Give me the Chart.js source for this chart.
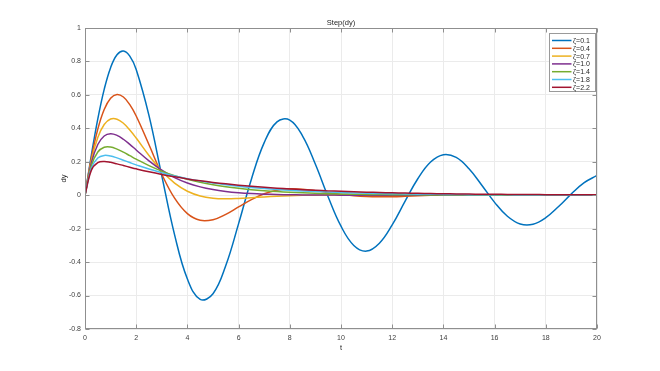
<!DOCTYPE html>
<html lang="en">
<head>
<meta charset="UTF-8">
<title>Step(dy)</title>
<script src="https://cdn.jsdelivr.net/npm/chart.js"></script>
<style>
  html, body { margin: 0; padding: 0; background: #fff; }
</style>
</head>
<body>
<canvas id="stepChart" width="660" height="371"></canvas>
<script>
// time samples (denser near the start where the curves rise fast)
const t = [0, 0.25, 0.5, 0.75, 1, 1.25, 1.5, 1.75, 2, 2.5, 3, 3.5, 4, 4.5, 5, 5.5, 6, 6.5, 7, 7.5,
           8, 8.5, 9, 9.5, 10, 10.5, 11, 11.5, 12, 12.5, 13, 13.5, 14, 14.5, 15, 15.5, 16, 16.5, 17, 17.5,
           18, 18.5, 19, 19.5, 20];

// dy values, one array per damping ratio
const z01 = [0, 0.2413, 0.4563, 0.6330, 0.7629, 0.8396, 0.8624, 0.8315, 0.7516, 0.4760, 0.1159, -0.2368, -0.5011, -0.6233, -0.5888,
             -0.4203, -0.1700, 0.0961, 0.3145, 0.4388, 0.4491, 0.3538, 0.1850, -0.0107, -0.1853, -0.3002, -0.3341, -0.2870, -0.1775, -0.0371,
             0.0987, 0.1985, 0.2425, 0.2259, 0.1580, 0.0601, -0.0427, -0.1257, -0.1716, -0.1731, -0.1341, -0.0676, 0.0083, 0.0751, 0.1180];
const z04 = [0, 0.2242, 0.3952, 0.5129, 0.5805, 0.6029, 0.5873, 0.5415, 0.4736, 0.3016, 0.1254, -0.0178, -0.1103, -0.1501, -0.1464,
             -0.1144, -0.0698, -0.0259, 0.0088, 0.0303, 0.0385, 0.0363, 0.0275, 0.0161, 0.0051, -0.0032, -0.0082, -0.0098, -0.0090, -0.0066,
             -0.0036, -0.0009, 0.0011, 0.0022, 0.0025, 0.0022, 0.0016, 0.0008, 0.0002, -0.0003, -0.0006, -0.0006, -0.0005, -0.0004, -0.0002];
const z07 = [0, 0.2088, 0.3449, 0.4229, 0.4555, 0.4547, 0.4301, 0.3903, 0.3418, 0.2377, 0.1442, 0.0723, 0.0239, -0.0043, -0.0176,
             -0.0211, -0.0191, -0.0148, -0.0100, -0.0059, -0.0028, -0.0008, 0.0004, 0.0009, 0.0010, 0.0008, 0.0006, 0.0004, 0.0002, 0.0001,
             0, 0, 0, 0, 0, 0, 0, 0, 0, 0, 0, 0, 0, 0, 0];
const z10 = [0, 0.1947, 0.3033, 0.3543, 0.3679, 0.3581, 0.3347, 0.3041, 0.2707, 0.2052, 0.1494, 0.1057, 0.0733, 0.0500, 0.0337,
             0.0225, 0.0149, 0.0098, 0.0064, 0.0041, 0.0027, 0.0017, 0.0011, 0.0007, 0.0005, 0.0003, 0.0002, 0.0001, 0.0001, 0,
             0, 0, 0, 0, 0, 0, 0, 0, 0, 0, 0, 0, 0, 0, 0];
const z14 = [0, 0.1779, 0.2583, 0.2867, 0.2880, 0.2757, 0.2573, 0.2367, 0.2158, 0.1772, 0.1443, 0.1171, 0.0950, 0.0770, 0.0624,
             0.0506, 0.0410, 0.0332, 0.0269, 0.0218, 0.0177, 0.0143, 0.0116, 0.0094, 0.0076, 0.0062, 0.0050, 0.0041, 0.0033, 0.0027,
             0.0022, 0.0018, 0.0014, 0.0012, 0.0009, 0.0008, 0.0006, 0.0005, 0.0004, 0.0003, 0.0003, 0.0002, 0.0002, 0.0001, 0.0001];
const z18 = [0, 0.1632, 0.2228, 0.2379, 0.2343, 0.2232, 0.2096, 0.1954, 0.1817, 0.1564, 0.1345, 0.1155, 0.0993, 0.0853, 0.0733,
             0.0630, 0.0541, 0.0465, 0.0400, 0.0343, 0.0295, 0.0254, 0.0218, 0.0187, 0.0161, 0.0138, 0.0119, 0.0102, 0.0088, 0.0075,
             0.0065, 0.0056, 0.0048, 0.0041, 0.0035, 0.0030, 0.0026, 0.0022, 0.0019, 0.0017, 0.0014, 0.0012, 0.0010, 0.0009, 0.0008];
const z22 = [0, 0.1501, 0.1944, 0.2018, 0.1966, 0.1875, 0.1774, 0.1674, 0.1577, 0.1399, 0.1240, 0.1100, 0.0975, 0.0865, 0.0767,
             0.0680, 0.0603, 0.0535, 0.0474, 0.0420, 0.0373, 0.0331, 0.0293, 0.0260, 0.0231, 0.0204, 0.0181, 0.0161, 0.0143, 0.0126,
             0.0112, 0.0099, 0.0088, 0.0078, 0.0069, 0.0061, 0.0054, 0.0048, 0.0043, 0.0038, 0.0034, 0.0030, 0.0026, 0.0023, 0.0021];

const zetaLabels = ["ζ=0.1", "ζ=0.4", "ζ=0.7", "ζ=1.0", "ζ=1.4", "ζ=1.8", "ζ=2.2"];
const lineColors = ["#0072BD", "#D95319", "#EDB120", "#7E2F8E", "#77AC30", "#4DBEEE", "#A2142F"];
const xTicks = [0, 2, 4, 6, 8, 10, 12, 14, 16, 18, 20];
const yTicks = [-0.8, -0.6, -0.4, -0.2, 0, 0.2, 0.4, 0.6, 0.8, 1];

const FONT = '"Liberation Sans", Arial, Helvetica, sans-serif';
Chart.defaults.font.family = FONT;

const series = [z01, z04, z07, z10, z14, z18, z22];
const datasets = series.map((s, i) => ({
    label: zetaLabels[i],
    data: s.map((v, k) => ({ x: t[k], y: v })),
    borderColor: lineColors[i],
    borderWidth: 1.5,
    pointRadius: 0,
    tension: 0.4,
    fill: false,
    order: series.length - i   // last one on top, like matlab
}));

// box, inward ticks, title, axis labels and the legend
const matlabFrame = {
    id: 'matlabFrame',
    afterDraw(chart) {
        const { ctx, chartArea: a, scales: { x, y } } = chart;
        const l = Math.floor(a.left) + 0.5, r = Math.floor(a.right) - 0.5;
        const tp = Math.floor(a.top) + 0.5, b = Math.floor(a.bottom) - 0.5;
        ctx.save();
        ctx.strokeStyle = '#8f8f8f';
        ctx.lineWidth = 1;
        ctx.strokeRect(l, tp, r - l, b - tp);

        ctx.beginPath();
        xTicks.forEach(v => {
            const px = Math.round(x.getPixelForValue(v)) + 0.5;
            ctx.moveTo(px, b); ctx.lineTo(px, b - 4);
            ctx.moveTo(px, tp); ctx.lineTo(px, tp + 4);
        });
        yTicks.forEach(v => {
            const py = Math.round(y.getPixelForValue(v)) + 0.5;
            ctx.moveTo(l, py); ctx.lineTo(l + 4, py);
            ctx.moveTo(r, py); ctx.lineTo(r - 4, py);
        });
        ctx.stroke();

        ctx.fillStyle = '#262626';
        ctx.textAlign = 'center';
        ctx.textBaseline = 'middle';
        ctx.font = '7.5px ' + FONT;
        const cx = (a.left + a.right) / 2, cy = (a.top + a.bottom) / 2;
        ctx.fillText('Step(dy)', cx, 22.5);
        ctx.fillText('t', cx, 348);
        ctx.save();
        ctx.translate(64, cy);
        ctx.rotate(-Math.PI / 2);
        ctx.fillText('dy', 0, 0);
        ctx.restore();

        // legend box
        const lx = 549.5, ly = 33.5, lw = 46, lh = 58;
        ctx.fillStyle = '#fff';
        ctx.fillRect(lx, ly, lw, lh);
        ctx.strokeStyle = '#9a9a9a';
        ctx.strokeRect(lx, ly, lw, lh);
        ctx.font = '7px ' + FONT;
        ctx.textAlign = 'left';
        zetaLabels.forEach((lab, i) => {
            const ry = 40.5 + i * 7.8;
            ctx.strokeStyle = lineColors[i];
            ctx.lineWidth = 1.5;
            ctx.beginPath();
            ctx.moveTo(552, ry); ctx.lineTo(571.5, ry);
            ctx.stroke();
            ctx.fillStyle = '#262626';
            ctx.fillText(lab, 573, ry + 0.5);
        });
        ctx.restore();
    }
};

new Chart(document.getElementById('stepChart').getContext('2d'), {
    type: 'line',
    data: { datasets: datasets },
    options: {
        responsive: false,
        animation: false,
        devicePixelRatio: 1,
        layout: { padding: { left: 0, right: 63, top: 28, bottom: 0 } },
        plugins: {
            legend: { display: false },
            title: { display: false },
            tooltip: { enabled: false }
        },
        scales: {
            x: {
                type: 'linear',
                min: 0, max: 20,
                afterFit: s => { s.height = 42; },
                afterBuildTicks: s => { s.ticks = xTicks.map(v => ({ value: v })); },
                ticks: { color: '#404040', font: { size: 7 }, padding: 5, maxRotation: 0 },
                grid: { color: '#ebebeb', drawTicks: false },
                border: { display: false }
            },
            y: {
                type: 'linear',
                min: -0.8, max: 1,
                afterFit: s => { s.width = 85; },
                afterBuildTicks: s => { s.ticks = yTicks.map(v => ({ value: v })); },
                ticks: { color: '#404040', font: { size: 7 }, padding: 4, callback: v => String(+v.toFixed(1)) },
                grid: { color: '#ebebeb', drawTicks: false },
                border: { display: false }
            }
        }
    },
    plugins: [matlabFrame]
});
</script>
</body>
</html>
